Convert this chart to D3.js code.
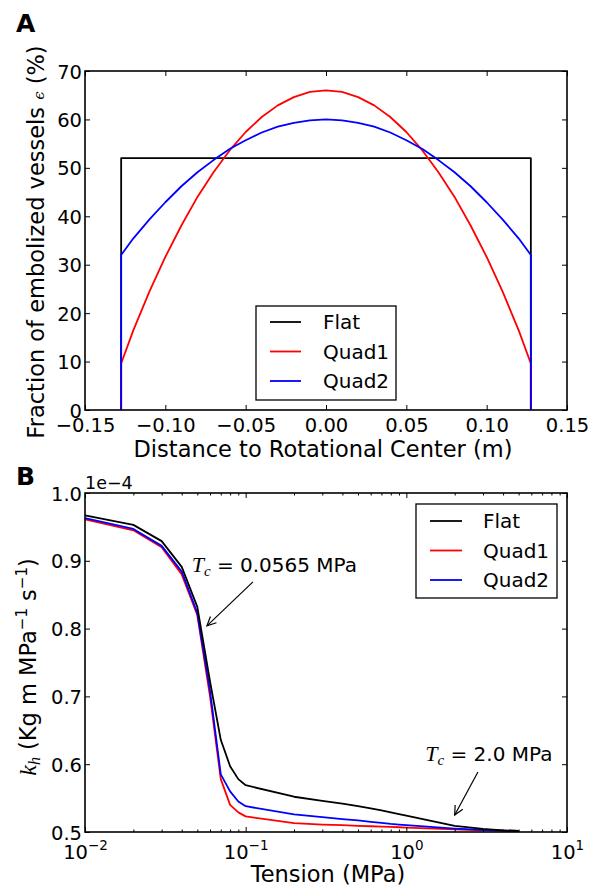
<!DOCTYPE html>
<html><head><meta charset="utf-8">
<script src="https://cdn.jsdelivr.net/npm/d3@7"></script>
<style>body{margin:0;background:#fff}text{font-family:"DejaVu Sans",sans-serif;fill:#000}</style>
</head><body>
<svg id="c" width="600" height="889" xmlns="http://www.w3.org/2000/svg"></svg>
<script>
// ---------- data ----------
const seriesNames = ["Flat", "Quad1", "Quad2"];
const seriesColors = ["#000000", "#ff0000", "#0000ff"];

// Panel A: fraction of embolized vessels (%) vs distance (m)
const distFlat = [-0.1275, -0.1275, 0.1275, 0.1275];
const fracFlat = [0, 52, 52, 0];
const distQuad = [-0.1275, -0.1275, -0.12, -0.11, -0.10, -0.09, -0.08, -0.07, -0.06, -0.05, -0.04, -0.03, -0.02, -0.01, 0,
                  0.01, 0.02, 0.03, 0.04, 0.05, 0.06, 0.07, 0.08, 0.09, 0.10, 0.11, 0.12, 0.1275, 0.1275];
const fracQuad1 = [0, 9.6, 16.4, 24.4, 31.6, 38.1, 44.0, 49.1, 53.6, 57.4, 60.5, 62.9, 64.6, 65.7, 66.0,
                   65.7, 64.6, 62.9, 60.5, 57.4, 53.6, 49.1, 44.0, 38.1, 31.6, 24.4, 16.4, 9.6, 0];
const fracQuad2 = [0, 32.0, 35.4, 39.3, 42.9, 46.2, 49.1, 51.6, 53.9, 55.7, 57.3, 58.5, 59.3, 59.8, 60.0,
                   59.8, 59.3, 58.5, 57.3, 55.7, 53.9, 51.6, 49.1, 46.2, 42.9, 39.3, 35.4, 32.0, 0];
const xTicksA = [-0.15, -0.10, -0.05, 0, 0.05, 0.10, 0.15];
const xTickLabelsA = ["\u22120.15", "\u22120.10", "\u22120.05", "0.00", "0.05", "0.10", "0.15"];
const yTicksA = [0, 10, 20, 30, 40, 50, 60, 70];

// Panel B: k_h (1e-4) vs tension (MPa)
const tension = [0.01, 0.02, 0.03, 0.04, 0.05, 0.06, 0.07, 0.08, 0.09, 0.1, 0.2, 0.3, 0.4, 0.5, 0.6, 0.7, 0.8, 0.9, 1, 2, 3, 4, 5];
const khFlat  = [0.967, 0.953, 0.929, 0.891, 0.832, 0.722, 0.636, 0.597, 0.578, 0.569, 0.552, 0.546, 0.542, 0.538, 0.535, 0.532, 0.529, 0.5265, 0.524, 0.509, 0.5045, 0.5025, 0.5015];
const khQuad1 = [0.961, 0.945, 0.920, 0.880, 0.820, 0.700, 0.578, 0.540, 0.529, 0.523, 0.513, 0.511, 0.510, 0.509, 0.5085, 0.508, 0.5075, 0.507, 0.5065, 0.504, 0.5025, 0.502, 0.5015];
const khQuad2 = [0.963, 0.947, 0.922, 0.884, 0.823, 0.708, 0.585, 0.560, 0.545, 0.538, 0.526, 0.522, 0.519, 0.517, 0.515, 0.5135, 0.512, 0.511, 0.510, 0.505, 0.503, 0.502, 0.5015];
const xTicksB = [0.01, 0.1, 1, 10];
const xTickExpB = ["\u22122", "\u22121", "0", "1"];
const yTicksB = [0.5, 0.6, 0.7, 0.8, 0.9, 1.0];

// annotations: text value, arrow tip (T, kh), arrow tail (T, kh), text anchor (T, kh)
const annotValues = ["0.0565", "2.0"];
const annotTip = [[0.0574, 0.804], [2.0, 0.525]];
const annotTail = [[0.111, 0.869], [2.79, 0.5885]];
const annotText = [[0.0461, 0.884], [1.31, 0.6047]];

// ---------- drawing ----------
const svg = d3.select("#c");
const FS = 19.5;   // ticks / legend
const LFS = 22.5;  // axis labels

const xA = d3.scaleLinear().domain([-0.15, 0.15]).range([85, 567]);
const yA = d3.scaleLinear().domain([0, 70]).range([410, 71]);
const xB = d3.scaleLog().domain([0.01, 10]).range([85, 567]);
const yB = d3.scaleLinear().domain([0.5, 1.0]).range([832, 493]);

function spine(x0, y0, x1, y1) {
  svg.append("rect").attr("x", x0).attr("y", y0).attr("width", x1 - x0).attr("height", y1 - y0)
    .attr("fill", "none").attr("stroke", "#000").attr("stroke-width", 1.6);
}
function ticks(g, axis) {
  g.call(axis);
  g.select(".domain").remove();
  g.selectAll(".tick line").attr("stroke", "#000").attr("stroke-width", 1);
}

// ===== Panel A =====
const gA = svg.append("g");
const lineA = d3.line().x(d => xA(d[0])).y(d => yA(d[1]));
const seriesA = [d3.zip(distFlat, fracFlat), d3.zip(distQuad, fracQuad1), d3.zip(distQuad, fracQuad2)];
seriesA.forEach((s, i) => {
  gA.append("path").attr("d", lineA(s)).attr("fill", "none")
    .attr("stroke", seriesColors[i]).attr("stroke-width", 1.8).attr("stroke-linejoin", "round");
});
const axA_b = gA.append("g").attr("transform", "translate(0,410)");
ticks(axA_b, d3.axisBottom(xA).tickValues(xTicksA).tickSizeInner(-5).tickSizeOuter(0)
  .tickFormat((d, i) => xTickLabelsA[i]));
axA_b.selectAll("text").attr("font-size", FS).attr("dy", null).attr("y", 22);
const axA_t = gA.append("g").attr("transform", "translate(0,71)");
ticks(axA_t, d3.axisTop(xA).tickValues(xTicksA).tickSizeInner(-5).tickSizeOuter(0).tickFormat(""));
const axA_l = gA.append("g").attr("transform", "translate(85,0)");
ticks(axA_l, d3.axisLeft(yA).tickValues(yTicksA).tickSizeInner(-5).tickSizeOuter(0).tickFormat(d3.format("d")));
axA_l.selectAll("text").attr("font-size", FS).attr("x", -3).attr("dy", "0.36em");
const axA_r = gA.append("g").attr("transform", "translate(567,0)");
ticks(axA_r, d3.axisRight(yA).tickValues(yTicksA).tickSizeInner(-5).tickSizeOuter(0).tickFormat(""));
spine(85, 71, 567, 410);

svg.append("text").attr("x", 16).attr("y", 32).attr("font-family", "Liberation Sans, Arial, sans-serif")
  .attr("font-weight", "bold").attr("font-size", 25).text("A");
svg.append("text").attr("x", 323).attr("y", 457).attr("text-anchor", "middle").attr("font-size", LFS)
  .text("Distance to Rotational Center (m)");
const yla = svg.append("text").attr("transform", "translate(44,242) rotate(-90)").attr("text-anchor", "middle").attr("font-size", LFS);
yla.append("tspan").text("Fraction of embolized vessels ");
yla.append("tspan").attr("font-family", "DejaVu Serif, serif").attr("font-style", "italic").attr("font-size", 15).text("\u03f5");
yla.append("tspan").text(" (%)");

function legend(x0, y0, w, h, lx0, lx1, tx, rowY) {
  svg.append("rect").attr("x", x0).attr("y", y0).attr("width", w).attr("height", h)
    .attr("fill", "#fff").attr("stroke", "#000").attr("stroke-width", 1.3);
  seriesNames.forEach((n, i) => {
    svg.append("line").attr("x1", lx0).attr("x2", lx1).attr("y1", rowY[i]).attr("y2", rowY[i])
      .attr("stroke", seriesColors[i]).attr("stroke-width", 1.8);
    svg.append("text").attr("x", tx).attr("y", rowY[i]).attr("dy", "0.36em").attr("font-size", 20).text(n);
  });
}
legend(256, 306, 140, 94, 270, 301, 323, [322, 351.5, 381]);

// ===== Panel B =====
const gB = svg.append("g");
const lineB = d3.line().x(d => xB(d[0])).y(d => yB(d[1]));
const seriesB = [khFlat, khQuad1, khQuad2];
[1, 2, 0].forEach(i => {
  gB.append("path").attr("d", lineB(d3.zip(tension, seriesB[i]))).attr("fill", "none")
    .attr("stroke", seriesColors[i]).attr("stroke-width", 1.8).attr("stroke-linejoin", "round");
});
const minorB = [];
[0.01, 0.1, 1].forEach(dec => { for (let k = 2; k <= 9; k++) minorB.push(dec * k); });
const axB_bm = gB.append("g").attr("transform", "translate(0,832)");
ticks(axB_bm, d3.axisBottom(xB).tickValues(minorB).tickSizeInner(-2.5).tickSizeOuter(0).tickFormat(""));
const axB_tm = gB.append("g").attr("transform", "translate(0,493)");
ticks(axB_tm, d3.axisTop(xB).tickValues(minorB).tickSizeInner(-2.5).tickSizeOuter(0).tickFormat(""));
const axB_b = gB.append("g").attr("transform", "translate(0,832)");
ticks(axB_b, d3.axisBottom(xB).tickValues(xTicksB).tickSizeInner(-5).tickSizeOuter(0).tickFormat(""));
axB_b.selectAll(".tick").each(function (d, i) {
  const t = d3.select(this).append("text").attr("y", 27).attr("text-anchor", "middle").attr("font-size", FS);
  t.append("tspan").text("10");
  t.append("tspan").attr("font-size", 13.5).attr("dy", -9).text(xTickExpB[i]);
});
const axB_t = gB.append("g").attr("transform", "translate(0,493)");
ticks(axB_t, d3.axisTop(xB).tickValues(xTicksB).tickSizeInner(-5).tickSizeOuter(0).tickFormat(""));
const axB_l = gB.append("g").attr("transform", "translate(85,0)");
ticks(axB_l, d3.axisLeft(yB).tickValues(yTicksB).tickSizeInner(-5).tickSizeOuter(0).tickFormat(d3.format(".1f")));
axB_l.selectAll("text").attr("font-size", FS).attr("x", -3).attr("dy", "0.36em");
const axB_r = gB.append("g").attr("transform", "translate(567,0)");
ticks(axB_r, d3.axisRight(yB).tickValues(yTicksB).tickSizeInner(-5).tickSizeOuter(0).tickFormat(""));
spine(85, 493, 567, 832);

svg.append("text").attr("x", 85).attr("y", 489).attr("font-size", 17.5).text("1e\u22124");
svg.append("text").attr("x", 16).attr("y", 485).attr("font-family", "Liberation Sans, Arial, sans-serif")
  .attr("font-weight", "bold").attr("font-size", 25).text("B");
svg.append("text").attr("x", 328).attr("y", 882).attr("text-anchor", "middle").attr("font-size", LFS).text("Tension (MPa)");
const ylb = svg.append("text").attr("transform", "translate(36,667) rotate(-90)").attr("text-anchor", "middle").attr("font-size", LFS);
ylb.append("tspan").attr("font-family", "Liberation Serif, serif").attr("font-style", "italic").attr("font-size", 24).text("k");
ylb.append("tspan").attr("font-family", "Liberation Serif, serif").attr("font-style", "italic").attr("font-size", 16).attr("dy", 4).text("h");
ylb.append("tspan").attr("dy", -4).text("  (Kg m MPa");
ylb.append("tspan").attr("font-size", 15).attr("dy", -9).text("\u22121");
ylb.append("tspan").attr("dy", 9).text(" s");
ylb.append("tspan").attr("font-size", 15).attr("dy", -9).text("\u22121");
ylb.append("tspan").attr("dy", 9).text(")");

legend(416, 504, 141, 94, 430, 462, 483, [521, 550.5, 580]);

annotValues.forEach((v, i) => {
  const [tx, ty] = [xB(annotText[i][0]), yB(annotText[i][1])];
  const t = svg.append("text").attr("x", tx).attr("y", ty).attr("font-size", 20);
  t.append("tspan").attr("font-family", "Liberation Serif, serif").attr("font-style", "italic").attr("font-size", 22).text("T");
  t.append("tspan").attr("font-family", "Liberation Serif, serif").attr("font-style", "italic").attr("font-size", 15).attr("dy", 4).text("c");
  t.append("tspan").attr("dy", -4).text(" = " + v + " MPa");
  const p1 = [xB(annotTail[i][0]), yB(annotTail[i][1])];
  const p2 = [xB(annotTip[i][0]), yB(annotTip[i][1])];
  svg.append("line").attr("x1", p1[0]).attr("y1", p1[1]).attr("x2", p2[0]).attr("y2", p2[1])
    .attr("stroke", "#000").attr("stroke-width", 1.2);
  const ang = Math.atan2(p1[1] - p2[1], p1[0] - p2[0]);
  const L = 10, a = 0.45;
  const h1 = [p2[0] + L * Math.cos(ang + a), p2[1] + L * Math.sin(ang + a)];
  const h2 = [p2[0] + L * Math.cos(ang - a), p2[1] + L * Math.sin(ang - a)];
  svg.append("path").attr("d", `M${h1}L${p2}L${h2}`).attr("fill", "none").attr("stroke", "#000").attr("stroke-width", 1.2);
});
</script>
</body></html>
